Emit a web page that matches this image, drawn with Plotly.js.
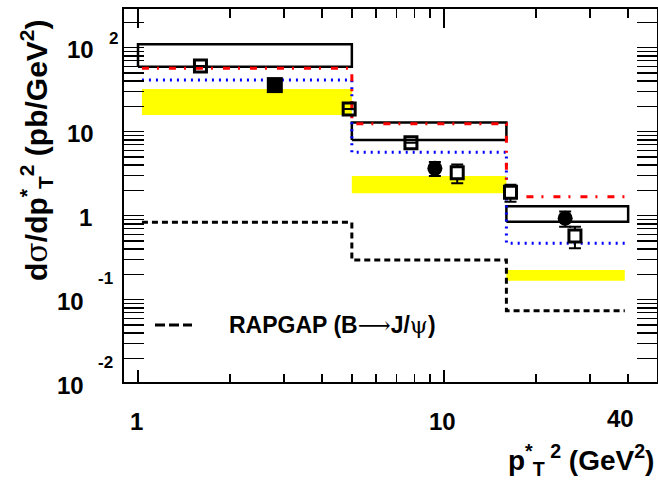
<!DOCTYPE html>
<html>
<head>
<meta charset="utf-8">
<script src="https://cdn.plot.ly/plotly-3.0.1.min.js"></script>
<style>
  html, body { margin: 0; padding: 0; background: #ffffff; }
  #chart { width: 658px; height: 481px; }
</style>
</head>
<body>
<div id="chart"></div>
<script>
// ---- bins in pT*^2 (GeV^2) ----
const binEdges   = [1, 5, 16, 40];      // open boxes
const modelEdges = [1.03, 5, 16, 39];   // bands and step predictions

// ---- open boxes: lower / upper edge per bin (pb/GeV^2) ----
const boxLow  = [59.4, 7.96, 0.849];
const boxHigh = [109.7, 12.9, 1.30];

// ---- yellow band per bin ----
const bandLow  = [15.8, 1.85, 0.168];
const bandHigh = [32.2, 2.97, 0.226];

// ---- step predictions ----
const predRed  = [56.9, 12.4, 1.68];
const predBlue = [41.2, 5.69, 0.469];
const rapgap   = [0.834, 0.297, 0.074];

// ---- measurements ----
const openSqX   = [1.60, 4.90, 7.80, 11.05, 16.5, 26.8];
const openSqY   = [60.5, 18.6, 7.39, 3.25, 1.90, 0.573];
const openSqErr = [null, null, null, 0.82, 0.43, 0.164];

const circX   = [9.34, 24.9];
const circY   = [3.66, 0.931];
const circErr = [0.69, 0.19];

const fillSqX = [2.80];
const fillSqY = [35.9];

// ---- axis labelling ----
const xTickVals  = [1, 10];
const xLabelVals = [1, 10, 40];
const xLabelText = ['1', '10', '40'];
const yTickExps  = [2, 1, 0, -1, -2];

const SYM = "font-family:'DejaVu Serif', 'Liberation Serif', serif;font-weight:normal";
const legendText = '<b>RAPGAP (B</b><span style="' + SYM + '">\u27f6</span><b>J/</b>' +
                   '<span style="' + SYM + '">\u03c8</span><b>)</b>';
const xTitleText = '<b>p<sup>*</sup><sub>T</sub><sup> 2</sup> (GeV<sup>2</sup>)</b>';
const yTitleText = '<b>d</b><span style="' + SYM + '">\u03c3</span>' +
                   '<b>/dp<sup>*</sup><sub>T</sub><sup>2</sup> (pb/GeV<sup>2</sup>)</b>';

// ---- geometry ----
const X_RANGE = [Math.log10(0.9), Math.log10(49.7)];
const Y_RANGE = [-1.98, 2.461];
const M = { l: 124, r: 1, t: 9, b: 99 };
const W = 658, H = 481;
const PW = W - M.l - M.r, PH = H - M.t - M.b;
const FONT = 'Liberation Sans, Arial, Helvetica, sans-serif';

const px2paperX = p => (p - M.l) / PW;
const px2paperY = p => (M.t + PH - p) / PH;
const xPaper = v => (Math.log10(v) - X_RANGE[0]) / (X_RANGE[1] - X_RANGE[0]);
const yPaperExp = e => (e - Y_RANGE[0]) / (Y_RANGE[1] - Y_RANGE[0]);

// closed rectangles, one per bin, separated by gaps
function rects(edges, lo, hi) {
  const x = [], y = [];
  for (let i = 0; i < lo.length; i++) {
    x.push(edges[i], edges[i + 1], edges[i + 1], edges[i], edges[i], null);
    y.push(lo[i], lo[i], hi[i], hi[i], lo[i], null);
  }
  return { x, y };
}
// histogram outline drawn with an 'hv' step
function steps(edges, vals) {
  return { x: edges.slice(), y: vals.concat([vals[vals.length - 1]]) };
}

const band = rects(modelEdges, bandLow, bandHigh);
const boxes = rects(binEdges, boxLow, boxHigh);
const red = steps(modelEdges, predRed);
const blue = steps(modelEdges, predBlue);
const rg = steps(modelEdges, rapgap);

const traces = [
  { x: band.x, y: band.y, mode: 'lines', fill: 'toself', fillcolor: '#ffff00',
    line: { width: 0, color: '#ffff00' }, hoverinfo: 'skip' },
  { x: boxes.x, y: boxes.y, mode: 'lines', line: { width: 2.5, color: '#000000' } },
  { x: blue.x, y: blue.y, mode: 'lines',
    line: { shape: 'hv', color: '#0000ff', width: 3, dash: '2px,5px' } },
  { x: red.x, y: red.y, mode: 'lines',
    line: { shape: 'hv', color: '#ff0000', width: 3, dash: '7px,8px,2px,10px' } },
  { x: rg.x, y: rg.y, mode: 'lines',
    line: { shape: 'hv', color: '#000000', width: 3, dash: '6px,4px' } },
  { x: fillSqX, y: fillSqY, mode: 'markers',
    marker: { symbol: 'square', size: 16, color: '#000000' } },
  { x: circX, y: circY, mode: 'markers',
    marker: { symbol: 'circle', size: 15, color: '#000000' },
    error_y: { type: 'data', array: circErr, color: '#000000', thickness: 2, width: 6 } },
  { x: openSqX, y: openSqY, mode: 'markers',
    marker: { symbol: 'square', size: 12,
              color: openSqErr.map(e => e == null ? 'rgba(0,0,0,0)' : '#ffffff'),
              line: { color: '#000000', width: 3 } },
    error_y: { type: 'data', array: openSqErr, color: '#000000', thickness: 2, width: 6 } }
];

// minor tick positions
const xMinor = [2, 3, 4, 5, 6, 7, 8, 9, 20, 30, 40];
const yMinor = [];
for (let k = -2; k <= 2; k++) for (let m = 2; m <= 9; m++) yMinor.push(m * Math.pow(10, k));

const annotations = [];
const tickFont = { family: FONT, size: 24, color: '#000000' };
const supFont = { family: FONT, size: 17, color: '#000000' };

// y tick labels
yTickExps.forEach(e => {
  const base = e === 0 ? '1' : '10';
  const right = e < 0 ? 86 : (e === 0 ? 94 : 96);
  annotations.push({ xref: 'paper', yref: 'paper', x: 0, y: yPaperExp(e),
    xanchor: 'right', yanchor: 'middle', xshift: right - M.l, yshift: -1.5,
    text: '<b>' + base + '</b>', showarrow: false, font: tickFont });
  if (e === 2 || e < 0) {
    annotations.push({ xref: 'paper', yref: 'paper', x: 0, y: yPaperExp(e),
      xanchor: 'left', yanchor: 'middle', xshift: (e < 0 ? 96 : 107) - M.l,
      yshift: e < 0 ? 21 : 9, text: '<b>' + e + '</b>', showarrow: false, font: supFont });
  }
});
// x tick labels
xLabelVals.forEach((v, i) => {
  annotations.push({ xref: 'paper', yref: 'paper', x: xPaper(v), y: 0,
    xanchor: 'center', yanchor: 'middle', xshift: v === 40 ? -8 : -1,
    yshift: v === 40 ? -36 : -39,
    text: '<b>' + xLabelText[i] + '</b>', showarrow: false, font: tickFont });
});
// axis titles
annotations.push({ xref: 'paper', yref: 'paper', x: px2paperX(656), y: px2paperY(460),
  xanchor: 'right', yanchor: 'middle', text: xTitleText, showarrow: false,
  font: { family: FONT, size: 28, color: '#000000' } });
annotations.push({ xref: 'paper', yref: 'paper', x: px2paperX(36), y: px2paperY(150),
  xanchor: 'center', yanchor: 'middle', textangle: -90, text: yTitleText, showarrow: false,
  font: { family: FONT, size: 30, color: '#000000' } });
// legend entry
annotations.push({ xref: 'paper', yref: 'paper', x: px2paperX(227), y: px2paperY(325),
  xanchor: 'left', yanchor: 'middle', text: legendText, showarrow: false,
  font: { family: FONT, size: 23, color: '#000000' } });

const shapes = [
  { type: 'line', xref: 'paper', yref: 'paper',
    x0: px2paperX(155), x1: px2paperX(192), y0: px2paperY(325), y1: px2paperY(325),
    line: { color: '#000000', width: 3, dash: '10px,4px' } }
];

const axisCommon = {
  type: 'log', showgrid: false, zeroline: false, showticklabels: false,
  ticks: 'inside', tickcolor: '#000000', tickwidth: 1.5,
  tickmode: 'array'
};

const layout = {
  width: W, height: H,
  margin: M,
  paper_bgcolor: '#ffffff', plot_bgcolor: '#ffffff',
  showlegend: false,
  font: { family: FONT, color: '#000000' },
  xaxis: Object.assign({}, axisCommon, {
    range: X_RANGE, tickvals: xTickVals, ticklen: 12,
    showline: true, linecolor: '#000000', linewidth: 2, mirror: true,
    minor: { ticks: 'inside', ticklen: 8, tickwidth: 1.5, tickcolor: '#000000',
             tickmode: 'array', tickvals: xMinor }
  }),
  xaxis2: Object.assign({}, axisCommon, {
    overlaying: 'x', side: 'top', anchor: 'y',
    range: X_RANGE, tickvals: xTickVals, ticklen: 19, showline: false,
    minor: { ticks: 'inside', ticklen: 9, tickwidth: 1.5, tickcolor: '#000000',
             tickmode: 'array', tickvals: xMinor }
  }),
  yaxis: Object.assign({}, axisCommon, {
    range: Y_RANGE, tickvals: [0.01, 0.1, 1, 10, 100], ticklen: 20,
    showline: true, linecolor: '#000000', linewidth: 2, mirror: 'allticks',
    minor: { ticks: 'inside', ticklen: 10, tickwidth: 1.5, tickcolor: '#000000',
             tickmode: 'array', tickvals: yMinor }
  }),
  annotations: annotations,
  shapes: shapes
};

// an empty trace keeps the top tick axis attached to the plot
traces.push({ x: [], y: [], xaxis: 'x2', yaxis: 'y', mode: 'lines', hoverinfo: 'skip' });

Plotly.newPlot('chart', traces, layout, { staticPlot: true, displayModeBar: false });
</script>
</body>
</html>
